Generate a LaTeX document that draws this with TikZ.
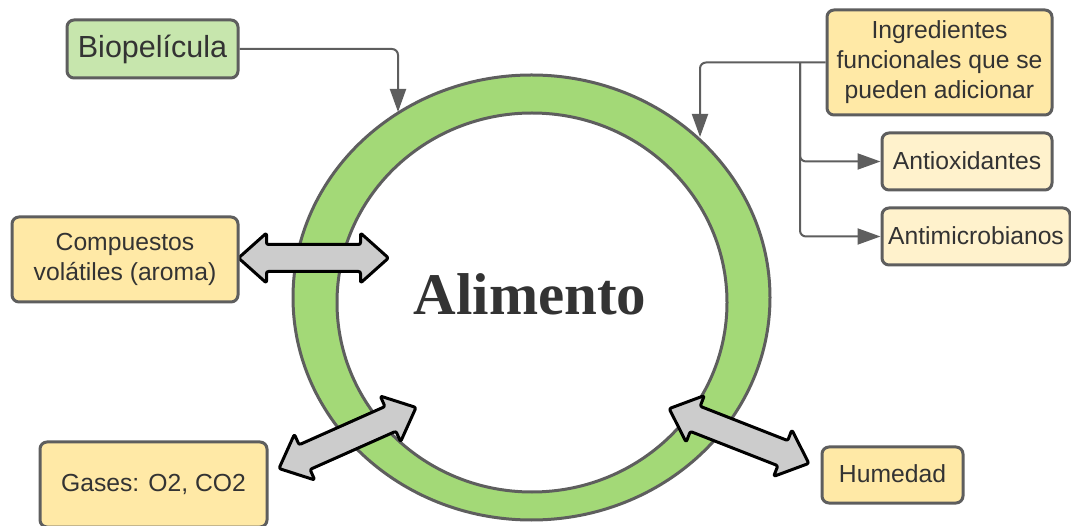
\documentclass[tikz,border=0pt]{standalone}
\usepackage{fontspec}
\setmainfont{Liberation Sans}
\newfontfamily\titlefont{Liberation Serif}
\usetikzlibrary{arrows.meta}
\definecolor{txt}{HTML}{333333}
\definecolor{edge}{HTML}{5E5E5E}
\definecolor{bgreen}{HTML}{C7E6AD}
\definecolor{ringg}{HTML}{A3D977}
\definecolor{yel}{HTML}{FFE9A6}
\definecolor{lyel}{HTML}{FFF2CC}
\definecolor{agray}{HTML}{CCCCCC}
\tikzset{
 box/.style={draw=edge, line width=3pt, rounded corners=7pt, align=center, text=txt, inner sep=0pt,
   font=\fontsize{24.7}{30}\selectfont},
 conn/.style={draw=edge, line width=2pt, rounded corners=6pt, -{Triangle[length=23pt,width=16pt]}},
 blockarrow/.style={draw=black, line width=3pt, fill=agray, line join=round, rounded corners=2pt},
 pics/dblarrow/.style={code={
   \draw[blockarrow] (-75,0) -- (-47,25) -- (-47,13.5) -- (47,13.5) -- (47,25) -- (75,0)
     -- (47,-25) -- (47,-13.5) -- (-47,-13.5) -- (-47,-25) -- cycle;}}
}
\begin{document}
\begin{tikzpicture}[x=1pt,y=1pt]
\useasboundingbox (0,0) rectangle (1071,525);
% ring
\fill[ringg, even odd rule] (531.5,227.5) ellipse [x radius=238.5, y radius=222.5]
  (532,222.5) ellipse [x radius=195, y radius=189.5];
\draw[edge, line width=3pt] (531.5,227.5) ellipse [x radius=238.5, y radius=222.5];
\draw[edge, line width=3pt] (532,222.5) ellipse [x radius=195, y radius=189.5];
\node[text=txt, font=\titlefont\bfseries\fontsize{59}{62}\selectfont] (alim) at (530,231) {Alimento};
% exchange arrows
\pic at (313.5,267) {dblarrow};
\pic[rotate=24] at (347.5,87) {dblarrow};
\pic[rotate=-21.4] at (739,89) {dblarrow};
% boxes
\node[box, fill=bgreen, minimum width=171, minimum height=58, font=\fontsize{30.5}{32}\selectfont] (bio) at (152.5,476) {Biopelícula};
\node[box, fill=yel, minimum width=225, minimum height=105] (ing) at (939.5,462.5) {Ingredientes\\funcionales que se\\pueden adicionar};
\node[box, fill=lyel, minimum width=170, minimum height=57] (antiox) at (967,363.5) {\raisebox{2pt}{Antioxidantes}};
\node[box, fill=lyel, minimum width=188, minimum height=57] (antimic) at (976,288.5) {\raisebox{2pt}{Antimicrobianos}};
\node[box, fill=yel, minimum width=226, minimum height=85] (comp) at (125,265.5) {Compuestos\\volátiles (aroma)};
\node[box, fill=yel, minimum width=227, minimum height=85] (gases) at (153.5,40.5) {Gases: O2, CO2};
\node[box, fill=yel, minimum width=141, minimum height=56] (hum) at (892.5,50) {\raisebox{3pt}{Humedad}};
% connectors
\coordinate (bioTip) at (398,413);
\coordinate (ingTip) at (700,388);
\coordinate (jn) at (800,462.5);
\draw[conn] (bio.east) -| (bioTip);
\draw[conn] (ing.west) -| (ingTip);
\draw[conn] (jn) |- (antiox.west);
\draw[conn] (jn) |- (antimic.west);
\end{tikzpicture}
\end{document}
